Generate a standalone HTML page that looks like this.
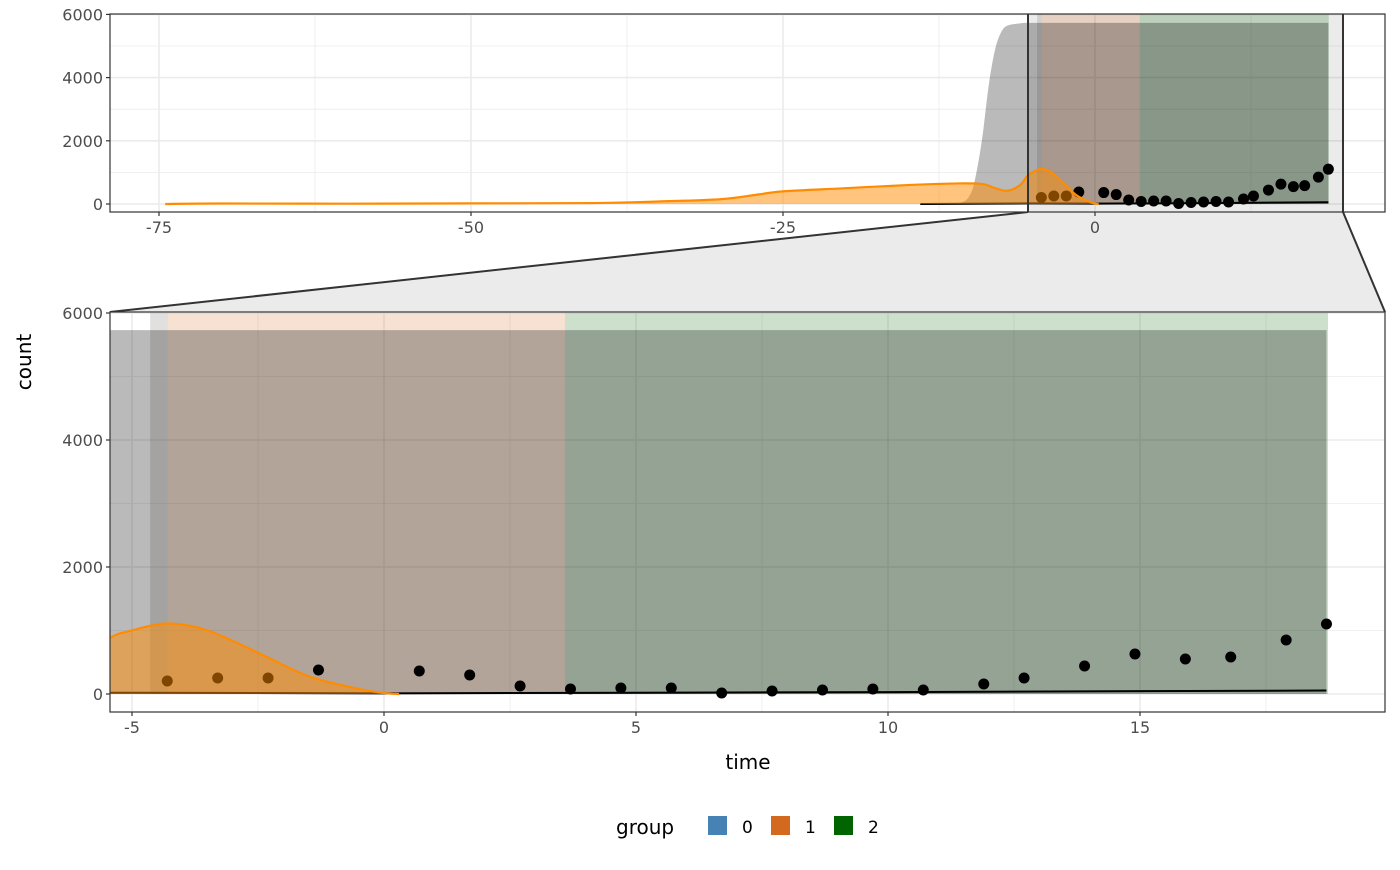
<!DOCTYPE html>
<html><head><meta charset="utf-8">
<style>
body{margin:0;background:#fff;}
svg text{font-family:"DejaVu Sans","Liberation Sans",sans-serif;}
</style></head>
<body>
<svg id="chart" width="1400" height="865" viewBox="0 0 1400 865" xmlns="http://www.w3.org/2000/svg"></svg>
<script>
// ---- data ----
const pointTimes = [-4.3,-3.3,-2.3,-1.3,0.7,1.7,2.7,3.7,4.7,5.7,6.7,7.7,8.7,9.7,10.7,11.9,12.7,13.9,14.9,15.9,16.8,17.9,18.7];
const pointCounts = [205,252,252,378,362,299,126,79,94,94,16,47,63,79,63,157,252,441,630,551,583,850,1102];
const orangeTimes = [-74.5,-70,-60,-50,-40,-35,-30,-27,-25,-20,-15,-11,-9,-8,-7,-6,-5.4,-5,-4.3,-3.5,-2.5,-1.5,-0.5,0,0.3];
const orangeDens = [0,15,10,20,30,80,150,300,400,500,600,650,630,500,420,600,900,1000,1110,1000,650,280,80,15,0];
const grayTimes = [-14,-11,-10,-9.5,-9,-8.5,-8,-7.5,-7,-6,-5,0,18.7];
const grayDens = [0,20,300,1000,2200,3800,4900,5450,5650,5715,5730,5730,5730];
const lineTimes = [-14,-5,0,5,10,18.7];
const lineCounts = [0,20,10,20,30,55];
const grp0Range = [-4.64,-4.29];
const grp1Range = [-4.29,3.59];
const grp2Range = [3.59,18.73];
const rectCountRange = [0,6000];
const yTicks = [0,2000,4000,6000];
const yMinor = [1000,3000,5000];
const topXTicks = [-75,-50,-25,0];
const topXMinor = [-62.5,-37.5,-12.5,12.5];
const botXTicks = [-5,0,5,10,15];
const botXMinor = [-2.5,2.5,7.5,12.5,17.5];

const NS = "http://www.w3.org/2000/svg";
const svg = document.getElementById('chart');
function el(tag, attrs, parent){
  const e = document.createElementNS(NS, tag);
  for (const k in attrs) e.setAttribute(k, attrs[k]);
  (parent||svg).appendChild(e);
  return e;
}
function smooth(pts){
  let d = 'M'+pts[0][0]+','+pts[0][1];
  for (let i=0;i<pts.length-1;i++){
    const p0 = pts[Math.max(0,i-1)], p1 = pts[i], p2 = pts[i+1], p3 = pts[Math.min(pts.length-1,i+2)];
    const c1x = p1[0]+(p2[0]-p0[0])/6, c1y = p1[1]+(p2[1]-p0[1])/6;
    const c2x = p2[0]-(p3[0]-p1[0])/6, c2y = p2[1]-(p3[1]-p1[1])/6;
    d += ' C'+c1x+','+c1y+' '+c2x+','+c2y+' '+p2[0]+','+p2[1];
  }
  return d;
}

const panels = [
  {name:'overview', x0:110, x1:1385, y0:14, y1:212, sx:t=>1095+t*12.48, sy:v=>204-v*0.0316, xt:topXTicks, xm:topXMinor},
  {name:'zoom', x0:110, x1:1385, y0:312, y1:712, sx:t=>384+t*50.4, sy:v=>694-v*0.0635, xt:botXTicks, xm:botXMinor}
];

const trap = el('polygon',{points:'1028,212 1343,212 1385,312 110,312', fill:'#ebebeb'});


const l1 = el('line',{x1:1028,y1:212,x2:110,y2:312,stroke:'#333',"stroke-width":2});


const l2 = el('line',{x1:1343,y1:212,x2:1385,y2:312,stroke:'#333',"stroke-width":2});



panels.forEach((p,pi)=>{
  const g = el('g',{});
  
  
  const cid = 'clip'+pi;
  const cp = el('clipPath',{id:cid}, g);
  el('rect',{x:p.x0,y:p.y0,width:p.x1-p.x0,height:p.y1-p.y0}, cp);
  el('rect',{x:p.x0,y:p.y0,width:p.x1-p.x0,height:p.y1-p.y0,fill:'#fff'}, g);
  const inner = el('g',{'clip-path':'url(#'+cid+')'}, g);
  p.xm.forEach(t=>el('line',{x1:p.sx(t),x2:p.sx(t),y1:p.y0,y2:p.y1,stroke:'#ebebeb','stroke-width':0.8},inner));
  yMinor.forEach(v=>el('line',{x1:p.x0,x2:p.x1,y1:p.sy(v),y2:p.sy(v),stroke:'#ebebeb','stroke-width':0.8},inner));
  p.xt.forEach(t=>el('line',{x1:p.sx(t),x2:p.sx(t),y1:p.y0,y2:p.y1,stroke:'#ebebeb','stroke-width':1.6},inner));
  yTicks.forEach(v=>el('line',{x1:p.x0,x2:p.x1,y1:p.sy(v),y2:p.sy(v),stroke:'#ebebeb','stroke-width':1.6},inner));
  if (pi===0){
    const zr = el('rect',{x:1028,y:p.y0,width:315,height:p.y1-p.y0,fill:'rgba(0,0,0,0.08)'},inner);
    
    
  }
  const top = p.sy(rectCountRange[1]), h = p.sy(rectCountRange[0]) - top;
  const r0 = el('rect',{x:p.sx(grp0Range[0]),y:top,width:p.sx(grp0Range[1])-p.sx(grp0Range[0]),height:h,fill:'rgba(110,100,95,0.2)'},inner);
   
  const r1 = el('rect',{x:p.sx(grp1Range[0]),y:top,width:p.sx(grp1Range[1])-p.sx(grp1Range[0]),height:h,fill:'rgba(210,105,30,0.2)'},inner);
   
  const r2 = el('rect',{x:p.sx(grp2Range[0]),y:top,width:p.sx(grp2Range[1])-p.sx(grp2Range[0]),height:h,fill:'rgba(0,100,0,0.2)'},inner);
   
  const gp = grayTimes.map((t,i)=>[p.sx(t),p.sy(grayDens[i])]);
  const gd = smooth(gp)+' L'+p.sx(grayTimes[grayTimes.length-1])+','+p.sy(0)+' Z';
  const ga = el('path',{d:gd,fill:'rgba(0,0,0,0.27)'},inner);
   
  pointTimes.forEach((t,i)=>{
    const c = el('circle',{cx:p.sx(t),cy:p.sy(pointCounts[i]),r:5.5,fill:'#000'},inner);
    
    
  });
  let ld = '';
  lineTimes.forEach((t,i)=>{ ld += (i?' L':'M')+p.sx(t)+','+p.sy(lineCounts[i]); });
  const bl = el('path',{d:ld,fill:'none',stroke:'#000','stroke-width':2},inner);
   
  const op = orangeTimes.map((t,i)=>[p.sx(t),p.sy(orangeDens[i])]);
  const od = smooth(op);
  const oa = el('path',{d:od+' L'+p.sx(orangeTimes[orangeTimes.length-1])+','+p.sy(0)+' L'+p.sx(orangeTimes[0])+','+p.sy(0)+' Z',fill:'rgba(255,140,0,0.5)'},inner);
   
  const ol = el('path',{d:od,fill:'none',stroke:'#ff8c00','stroke-width':2.2},inner);
   
  if (pi===0){
    el('line',{x1:1028,x2:1028,y1:p.y0,y2:p.y1,stroke:'#333','stroke-width':2},inner);
    el('line',{x1:1343,x2:1343,y1:p.y0,y2:p.y1,stroke:'#333','stroke-width':2},inner);
  }
  el('rect',{x:p.x0,y:p.y0,width:p.x1-p.x0,height:p.y1-p.y0,fill:'none',stroke:'#333','stroke-width':1.2},g);
  yTicks.forEach(v=>{
    el('line',{x1:p.x0-4,x2:p.x0,y1:p.sy(v),y2:p.sy(v),stroke:'#333','stroke-width':1.2},g);
    const tx = el('text',{x:p.x0-7,y:p.sy(v)+6,'text-anchor':'end','font-size':16,fill:'#4d4d4d'},g);
    tx.textContent = v;
     
  });
  p.xt.forEach(t=>{
    el('line',{x1:p.sx(t),x2:p.sx(t),y1:p.y1,y2:p.y1+4,stroke:'#333','stroke-width':1.2},g);
    const tx = el('text',{x:p.sx(t),y:p.y1+21,'text-anchor':'middle','font-size':16,fill:'#4d4d4d'},g);
    tx.textContent = t;
     
  });
});

const yt = el('text',{x:0,y:0,transform:'translate(31,362) rotate(-90)','text-anchor':'middle','font-size':20,fill:'#000'});
yt.textContent='count';  
const xt = el('text',{x:748,y:769,'text-anchor':'middle','font-size':20,fill:'#000'});
xt.textContent='time';  

const lg = el('g',{});
 
const lt = el('text',{x:616,y:834,'font-size':20,fill:'#000'},lg);
lt.textContent='group';  
const legLabels = ['0','1','2'];
const legColors = ['#4682b4','#d2691e','#006400'];
legLabels.forEach((lab,i)=>{
  const kx = 708 + i*63;
  const r = el('rect',{x:kx,y:816,width:19,height:19,fill:legColors[i]},lg);
   
  const t = el('text',{x:kx+34,y:833,'font-size':17,fill:'#000'},lg);
  t.textContent = lab;
   
});
</script>
</body></html>
